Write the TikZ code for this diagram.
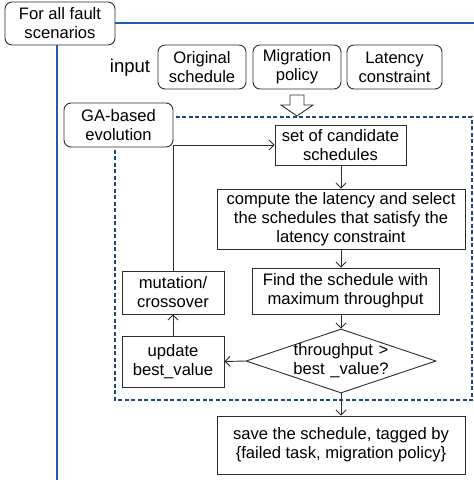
\documentclass[tikz,border=0pt]{standalone}
\usepackage{fontspec}
\setmainfont{Liberation Sans}
\usetikzlibrary{shapes.geometric,arrows.meta}
\definecolor{frameblue}{RGB}{30,92,168}
\definecolor{gablue}{RGB}{31,73,125}
\definecolor{edge}{RGB}{45,45,45}
\tikzstyle{arrow} = [-{Straight Barb[length=5pt,width=10pt]},draw=edge,line width=0.9pt]
\tikzstyle{proc} = [draw=edge,line width=0.9pt,fill=white,align=center,inner sep=0pt,font=\fontsize{16.6}{19}\selectfont]
\tikzstyle{tag} = [proc,rounded corners=7pt]
\tikzstyle{cond} = [proc,diamond,aspect=3,text width=100pt,inner ysep=-4pt,minimum width=190pt,minimum height=64pt]

\begin{document}
\begin{tikzpicture}[x=1pt,y=-1pt]
    \useasboundingbox (0,0) rectangle (474,480);
    % loop over all fault scenarios
    \draw[frameblue, line width=2pt] (57,23) rectangle (477,480.5);
    \node[tag, minimum width=110pt, minimum height=43pt] at (60,23.5) (scen) {For all fault\\scenarios};

    % inputs
    \node[font=\fontsize{18.5}{20}\selectfont] at (130,68) (inp) {input};
    \node[tag, minimum width=88pt, minimum height=44pt] at (202,67) (orig) {Original\\schedule};
    \node[tag, minimum width=88pt, minimum height=44pt] at (297,67) (migr) {Migration\\policy};
    \node[tag, minimum width=95pt, minimum height=44pt] at (394.5,67) (lat) {Latency\\constraint};
    \coordinate (hin) at (297,95);
    \draw[edge, line width=0.9pt, fill=white] (hin) ++(-7,0) -- ++(14,0) -- ++(0,10) -- ++(9,0)
        -- ++(-16,11) -- ++(-16,-11) -- ++(9,0) -- cycle;

    % GA loop
    \draw[gablue, line width=1.4pt, dash pattern=on 4pt off 2.5pt] (115,117) rectangle (472,400);
    \node[tag, minimum width=109pt, minimum height=44pt] at (118.5,125) (ga) {GA-based\\evolution};

    \node[proc, minimum width=131pt, minimum height=40pt] at (340.5,145) (cand) {set of candidate\\schedules};
    \node[proc, minimum width=248pt, minimum height=60pt] at (341,219) (comp) {compute the latency and select\\the schedules that satisfy the\\latency constraint};
    \node[proc, minimum width=187pt, minimum height=46pt] at (345.5,291) (find) {Find the schedule with\\maximum throughput};
    \node[cond] at (341,361) (dec) {throughput >\\best \_value?};
    \node[proc, minimum width=102pt, minimum height=51pt] at (173,361.5) (upd) {update\\best\_value};
    \node[proc, minimum width=102pt, minimum height=43pt] at (173,292.5) (mut) {mutation/\\crossover};
    \node[proc, minimum width=248pt, minimum height=58pt] at (341,445) (save) {save the schedule, tagged by\\\{failed task, migration policy\}};

    \draw[arrow] (cand.south -| comp.north) -- (comp.north);
    \draw[arrow] (comp.south) -- (comp.south |- find.north);
    \draw[arrow] (comp.south |- find.south) -- (dec.north);
    \draw[arrow] (dec.south) -- (save.north);
    \draw[arrow] (dec.west) -- (upd.east);
    \draw[arrow] (upd.north) -- (mut.south);
    \draw[arrow] (mut.north) |- (cand.west);
\end{tikzpicture}
\end{document}
